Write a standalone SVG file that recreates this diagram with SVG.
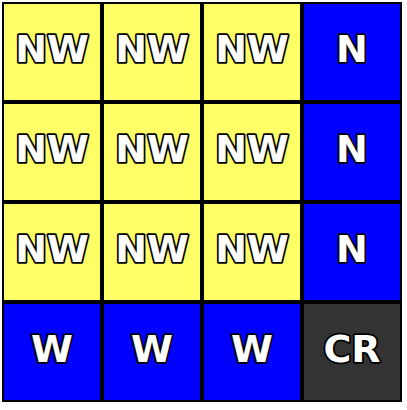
<svg xmlns="http://www.w3.org/2000/svg" width="407" height="410" viewBox="0 0 407 410">
<style>
rect{stroke:#000;stroke-width:2}
.y{fill:#ffff66}.b{fill:#0000ff}.d{fill:#333333}
text{font-family:"DejaVu Sans",sans-serif;font-weight:bold;font-size:38px;fill:#fff;stroke:#000;stroke-width:3.5;paint-order:stroke fill;stroke-linejoin:round;text-anchor:middle}
</style>
<rect width="407" height="410" fill="#fff" style="stroke:none"/>
<g id="c00"><rect class="y" x="3" y="3" width="98" height="98"/><text x="52" y="62">NW</text></g>
<g id="c10"><rect class="y" x="103" y="3" width="98" height="98"/><text x="152" y="62">NW</text></g>
<g id="c20"><rect class="y" x="203" y="3" width="98" height="98"/><text x="252" y="62">NW</text></g>
<g id="c30"><rect class="b" x="303" y="3" width="98" height="98"/><text x="352" y="62">N</text></g>
<g id="c01"><rect class="y" x="3" y="103" width="98" height="98"/><text x="52" y="162">NW</text></g>
<g id="c11"><rect class="y" x="103" y="103" width="98" height="98"/><text x="152" y="162">NW</text></g>
<g id="c21"><rect class="y" x="203" y="103" width="98" height="98"/><text x="252" y="162">NW</text></g>
<g id="c31"><rect class="b" x="303" y="103" width="98" height="98"/><text x="352" y="162">N</text></g>
<g id="c02"><rect class="y" x="3" y="203" width="98" height="98"/><text x="52" y="262">NW</text></g>
<g id="c12"><rect class="y" x="103" y="203" width="98" height="98"/><text x="152" y="262">NW</text></g>
<g id="c22"><rect class="y" x="203" y="203" width="98" height="98"/><text x="252" y="262">NW</text></g>
<g id="c32"><rect class="b" x="303" y="203" width="98" height="98"/><text x="352" y="262">N</text></g>
<g id="c03"><rect class="b" x="3" y="303" width="98" height="98"/><text x="52" y="362">W</text></g>
<g id="c13"><rect class="b" x="103" y="303" width="98" height="98"/><text x="152" y="362">W</text></g>
<g id="c23"><rect class="b" x="203" y="303" width="98" height="98"/><text x="252" y="362">W</text></g>
<g id="c33"><rect class="d" x="303" y="303" width="98" height="98"/><text x="352" y="362">CR</text></g>
<g id="connectors"/>
</svg>
